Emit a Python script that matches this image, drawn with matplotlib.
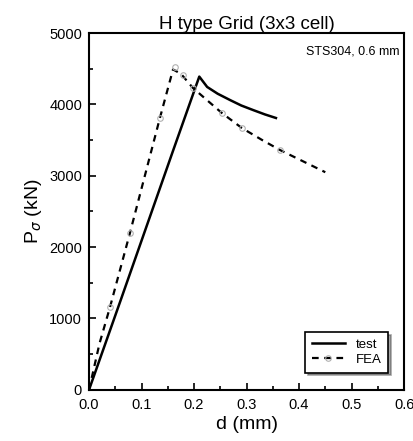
import matplotlib.pyplot as plt
from matplotlib.ticker import MultipleLocator

plt.rcParams['font.family'] = ['Liberation Sans', 'DejaVu Sans']

# test curve
test_d = [0.0, 0.06, 0.16, 0.21, 0.225, 0.245, 0.269, 0.29, 0.313, 0.335, 0.356]
test_p = [0, 1250, 3350, 4390, 4245, 4150, 4060, 3985, 3920, 3860, 3810]

# FEA curve
fea_d = [0.0, 0.02, 0.04, 0.078, 0.135, 0.16, 0.175, 0.198, 0.253, 0.291, 0.33, 0.364, 0.45]
fea_p = [0, 650, 1160, 2200, 3810, 4490, 4430, 4230, 3880, 3670, 3500, 3360, 3050]
fea_mark_d = [0.04, 0.078, 0.135, 0.164, 0.179, 0.198, 0.253, 0.291, 0.364]
fea_mark_p = [1160, 2200, 3810, 4520, 4410, 4230, 3880, 3670, 3360]

fig = plt.figure(figsize=(4.14, 4.41), dpi=100)
ax = fig.add_axes([0.215, 0.116, 0.761, 0.809])

ax.plot(test_d, test_p, color='black', lw=1.8, label='test')
ax.plot(fea_d, fea_p, color='black', lw=1.6, ls=(0, (3, 2.5)))
ax.plot(fea_mark_d, fea_mark_p, ls='none', marker='o', ms=4, mfc='none', mec='#b0b0b0', mew=0.8)
# legend proxy for FEA
ax.plot([], [], color='black', lw=1.6, ls=(0, (3, 2.5)), marker='o', ms=4,
        mfc='none', mec='#b0b0b0', mew=0.8, label='FEA')

ax.set_xlim(0, 0.6)
ax.set_ylim(0, 5000)
ax.xaxis.set_major_locator(MultipleLocator(0.1))
ax.xaxis.set_minor_locator(MultipleLocator(0.05))
ax.yaxis.set_major_locator(MultipleLocator(1000))
ax.yaxis.set_minor_locator(MultipleLocator(500))
ax.xaxis.set_major_formatter(plt.FormatStrFormatter('%.1f'))
ax.tick_params(which='both', direction='in', labelsize=10.5, width=1.2)
ax.tick_params(which='major', length=5)
ax.tick_params(which='minor', length=3)
ax.tick_params(axis='x', pad=6)
ax.tick_params(axis='y', pad=5)
for s in ax.spines.values():
    s.set_linewidth(1.5)

ax.set_xlabel('d (mm)', fontsize=14, labelpad=3)
ax.set_ylabel(r'P$_{\sigma}$ (kN)', fontsize=14)
ax.set_title('H type Grid (3x3 cell)', fontsize=13.5, pad=3)
ax.text(0.985, 0.965, 'STS304, 0.6 mm', transform=ax.transAxes, ha='right', va='top', fontsize=9)

leg = ax.legend(loc='lower right', bbox_to_anchor=(0.97, 0.03), fontsize=9.5, frameon=True,
                shadow=True, fancybox=False, handlelength=2.5, borderpad=0.5, labelspacing=0.2)
leg.get_frame().set_edgecolor('black')
leg.get_frame().set_linewidth(1.2)

fig.savefig('out.png', dpi=100)
